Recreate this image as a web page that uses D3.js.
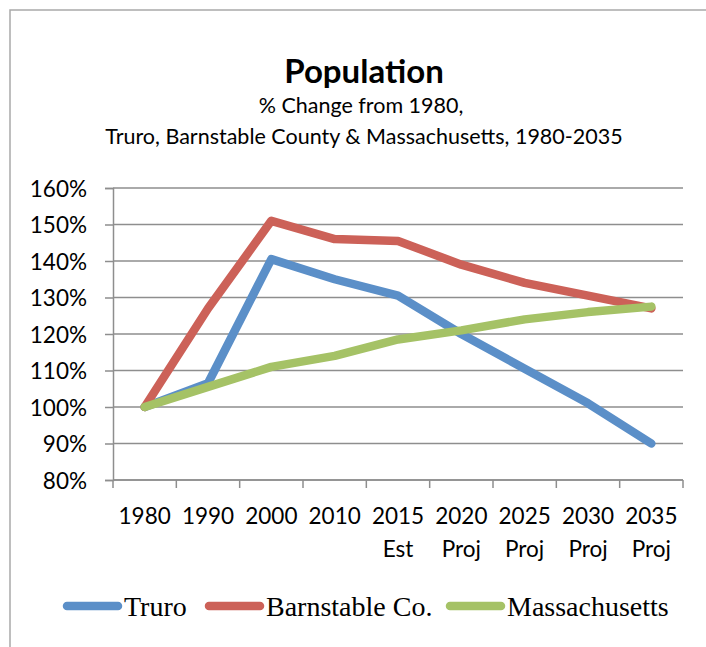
<!DOCTYPE html>
<html>
<head>
<meta charset="utf-8">
<script src="https://cdn.jsdelivr.net/npm/d3@7"></script>
<style>
  body { margin: 0; background: #fff; }
  svg { display: block; }
  .tick text { font-family: Lato, "Open Sans", sans-serif; fill: #000; }
</style>
</head>
<body>
<div id="chart"></div>
<script>
// categories along the x axis (two-line labels)
const years = ['1980', '1990', '2000', '2010', '2015', '2020', '2025', '2030', '2035'];
const yearNotes = ['', '', '', '', 'Est', 'Proj', 'Proj', 'Proj', 'Proj'];

// % of 1980 population
const truro = [100, 106.5, 140.5, 135, 130.5, 120, 110.5, 101, 90];
const barnstable = [100, 127, 151, 146, 145.5, 139, 134, 130.5, 127];
const massachusetts = [100, 105.5, 111, 114, 118.5, 121, 124, 126, 127.5];

const seriesNames = ['Truro', 'Barnstable Co.', 'Massachusetts'];
const seriesColors = ['#5b8fc8', '#cc6158', '#a5c266'];
const yTicks = [80, 90, 100, 110, 120, 130, 140, 150, 160];

const width = 706, height = 647;
const margin = {top: 188, right: 23, bottom: 167, left: 113};

const svg = d3.select('#chart').append('svg')
  .attr('width', width)
  .attr('height', height);

// outer chart border (runs off the right/bottom edge)
svg.append('rect')
  .attr('x', 10).attr('y', 10)
  .attr('width', 740).attr('height', 700)
  .attr('fill', 'none')
  .attr('stroke', '#a9a9a9')
  .attr('stroke-width', 1.5);

// titles
svg.append('text')
  .attr('x', 364).attr('y', 83)
  .attr('text-anchor', 'middle')
  .style('font-family', 'Lato, sans-serif')
  .style('font-weight', 'bold')
  .style('font-size', '33px')
  .text('Population');

svg.append('text')
  .attr('x', 361).attr('y', 113)
  .attr('text-anchor', 'middle')
  .style('font-family', 'Lato, sans-serif')
  .style('font-size', '21.5px')
  .text('% Change from 1980,');

svg.append('text')
  .attr('x', 364).attr('y', 144)
  .attr('text-anchor', 'middle')
  .style('font-family', 'Lato, sans-serif')
  .style('font-size', '21.5px')
  .text('Truro, Barnstable County & Massachusetts, 1980-2035');

const x = d3.scaleBand()
  .domain(years)
  .range([margin.left, width - margin.right])
  .paddingInner(0)
  .paddingOuter(0);

const y = d3.scaleLinear()
  .domain([80, 160])
  .range([height - margin.bottom, margin.top]);

// gridlines
svg.append('g')
  .selectAll('line')
  .data(yTicks)
  .enter().append('line')
  .attr('x1', margin.left)
  .attr('x2', width - margin.right)
  .attr('y1', d => y(d))
  .attr('y2', d => y(d))
  .attr('stroke', '#8e8e8e')
  .attr('stroke-width', 1.5);

// y axis
const yAxis = svg.append('g')
  .attr('transform', 'translate(' + margin.left + ',0)')
  .call(d3.axisLeft(y).tickValues(yTicks).tickSize(8).tickPadding(18)
    .tickFormat(d => d + '%'));
yAxis.selectAll('path, line').attr('stroke', '#8e8e8e').attr('stroke-width', 1.5);
yAxis.selectAll('text').style('font-size', '22.5px').attr('dy', '0.36em');

// x axis: ticks between categories
const xAxis = svg.append('g')
  .attr('transform', 'translate(0,' + y(80) + ')');
xAxis.append('line')
  .attr('x1', margin.left).attr('x2', width - margin.right)
  .attr('stroke', '#8e8e8e').attr('stroke-width', 1.5);
const bounds = years.map(d => x(d)).concat([x(years[years.length - 1]) + x.bandwidth()]);
xAxis.selectAll('line.tk')
  .data(bounds)
  .enter().append('line')
  .attr('class', 'tk')
  .attr('x1', d => d).attr('x2', d => d)
  .attr('y1', 0).attr('y2', 8)
  .attr('stroke', '#8e8e8e').attr('stroke-width', 1.5);

const labels = xAxis.selectAll('text.lbl')
  .data(years)
  .enter().append('text')
  .attr('class', 'lbl')
  .attr('text-anchor', 'middle')
  .style('font-family', 'Lato, sans-serif')
  .style('font-size', '22.5px')
  .attr('transform', d => 'translate(' + (x(d) + x.bandwidth() / 2) + ',0)');
labels.append('tspan').attr('x', 0).attr('y', 44).text(d => d);
labels.append('tspan').attr('x', 0).attr('y', 77).text((d, i) => yearNotes[i]);

// lines
const line = d3.line()
  .x((d, i) => x(years[i]) + x.bandwidth() / 2)
  .y(d => y(d));

const allSeries = [truro, barnstable, massachusetts];
// draw in order Truro, Barnstable, Massachusetts (Mass. on top)
svg.append('g')
  .selectAll('path')
  .data(allSeries)
  .enter().append('path')
  .attr('d', line)
  .attr('fill', 'none')
  .attr('stroke', (d, i) => seriesColors[i])
  .attr('stroke-width', 8.5)
  .attr('stroke-linejoin', 'round')
  .attr('stroke-linecap', 'round');

// legend
const legendX = [67, 209, 450];
const legend = svg.append('g')
  .selectAll('g')
  .data(seriesNames)
  .enter().append('g')
  .attr('transform', (d, i) => 'translate(' + legendX[i] + ',606)');
legend.append('line')
  .attr('x1', 0).attr('x2', 51)
  .attr('stroke', (d, i) => seriesColors[i])
  .attr('stroke-width', 8.5)
  .attr('stroke-linecap', 'round');
legend.append('text')
  .attr('x', 57).attr('y', 10)
  .style('font-family', '"Liberation Serif", "DejaVu Serif", serif')
  .style('font-size', '28px')
  .text(d => d);
</script>
</body>
</html>
